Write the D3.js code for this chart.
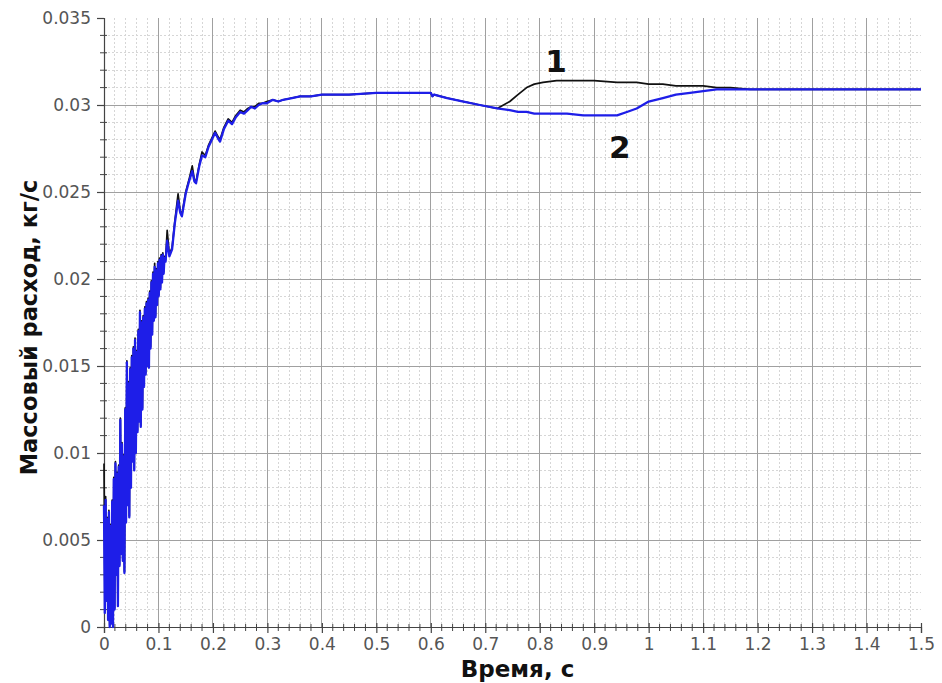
<!DOCTYPE html>
<html>
<head>
<meta charset="utf-8">
<script src="https://cdn.jsdelivr.net/npm/d3@7"></script>
<style>
  html, body { margin: 0; padding: 0; background: #fff; }
  svg { display: block; }
</style>
</head>
<body>
<svg id="chart" width="942" height="683"></svg>
<script>
// Time, s
const time = [
  0.0000,0.0015,0.0030,0.0045,0.0060,0.0075,0.0090,0.0105,0.0120,0.0135,
  0.0150,0.0165,0.0180,0.0195,0.0210,0.0225,0.0240,0.0255,0.0270,0.0285,
  0.0300,0.0315,0.0330,0.0345,0.0360,0.0375,0.0390,0.0405,0.0420,0.0435,
  0.0450,0.0465,0.0480,0.0495,0.0510,0.0525,0.0540,0.0555,0.0570,0.0585,
  0.0600,0.0615,0.0630,0.0645,0.0660,0.0675,0.0690,0.0705,0.0720,0.0735,
  0.0750,0.0765,0.0780,0.0795,0.0810,0.0825,0.0840,0.0855,0.0870,0.0885,
  0.0900,0.0915,0.0930,0.0945,0.0960,0.0975,0.0990,0.1005,0.1020,0.1035,
  0.1050,0.1065,0.1080,0.1095,0.1110,0.113,0.116,0.120,0.125,0.130,
  0.136,0.140,0.143,0.150,0.156,0.162,0.166,0.169,0.175,0.180,
  0.186,0.192,0.198,0.204,0.209,0.213,0.220,0.228,0.235,0.242,
  0.250,0.257,0.264,0.270,0.277,0.284,0.291,0.299,0.310,0.320,
  0.329,0.345,0.360,0.380,0.400,0.420,0.450,0.500,0.550,0.600,
  0.603,0.606,0.630,0.660,0.690,0.722,0.745,0.760,0.776,0.790,
  0.806,0.831,0.850,0.880,0.900,0.942,0.960,0.978,1.000,1.026,
  1.050,1.076,1.100,1.125,1.150,1.186,1.250,1.300,1.400,1.500
];

// Mass flow, kg/s — curve 1 (black)
const flow1 = [
  0.0094,0.0027,0.0075,0.0016,0.0063,0.0005,0.0067,0.0001,0.0059,0.0003,
  0.0073,0.0001,0.0086,0.0011,0.0095,0.0031,0.0089,0.0013,0.0093,0.0036,
  0.0120,0.0043,0.0106,0.0039,0.0099,0.0032,0.0126,0.0061,0.0153,0.0071,
  0.0141,0.0064,0.0149,0.0081,0.0156,0.0096,0.0161,0.0091,0.0166,0.0101,
  0.0159,0.0113,0.0171,0.0119,0.0182,0.0116,0.0176,0.0126,0.0179,0.0139,
  0.0184,0.0146,0.0187,0.0151,0.0189,0.0150,0.0193,0.0161,0.0199,0.0169,
  0.0204,0.0177,0.0209,0.0179,0.0206,0.0186,0.0210,0.0191,0.0212,0.0195,
  0.0214,0.0199,0.0215,0.0204,0.0213,0.0211,0.0228,0.0214,0.0218,0.0233,
  0.0249,0.0239,0.0237,0.0250,0.0257,0.0265,0.0257,0.0256,0.0266,0.0273,
  0.0271,0.0277,0.0281,0.0285,0.0282,0.0280,0.0287,0.0292,0.0290,0.0294,
  0.0297,0.0296,0.0298,0.0299,0.0299,0.0301,0.0301,0.0302,0.0303,0.0302,
  0.0303,0.0304,0.0305,0.0305,0.0306,0.0306,0.0306,0.0307,0.0307,0.0307,
  0.0305,0.0306,0.0304,0.0302,0.0300,0.0298,0.0302,0.0306,0.0310,0.0312,
  0.0313,0.0314,0.0314,0.0314,0.0314,0.0313,0.0313,0.0313,0.0312,0.0312,
  0.0311,0.0311,0.0311,0.0310,0.0310,0.0309,0.0309,0.0309,0.0309,0.0309
];

// Mass flow, kg/s — curve 2 (blue)
const flow2 = [
  0.0070,0.0008,0.0073,0.0015,0.0062,0.0004,0.0066,0.0000,0.0058,0.0002,
  0.0072,0.0000,0.0085,0.0010,0.0094,0.0030,0.0088,0.0012,0.0092,0.0035,
  0.0119,0.0042,0.0105,0.0038,0.0098,0.0031,0.0125,0.0060,0.0152,0.0070,
  0.0140,0.0063,0.0148,0.0080,0.0155,0.0095,0.0160,0.0090,0.0165,0.0100,
  0.0158,0.0112,0.0170,0.0118,0.0181,0.0115,0.0175,0.0125,0.0178,0.0138,
  0.0183,0.0145,0.0186,0.0150,0.0188,0.0149,0.0192,0.0160,0.0198,0.0168,
  0.0203,0.0176,0.0207,0.0178,0.0205,0.0185,0.0209,0.0190,0.0211,0.0194,
  0.0213,0.0198,0.0214,0.0203,0.0212,0.0210,0.0222,0.0213,0.0217,0.0232,
  0.0245,0.0238,0.0236,0.0249,0.0256,0.0262,0.0256,0.0255,0.0265,0.0271,
  0.0270,0.0276,0.0280,0.0284,0.0281,0.0279,0.0286,0.0291,0.0289,0.0293,
  0.0296,0.0295,0.0297,0.0299,0.0298,0.0300,0.0301,0.0301,0.0303,0.0302,
  0.0303,0.0304,0.0305,0.0305,0.0306,0.0306,0.0306,0.0307,0.0307,0.0307,
  0.0305,0.0306,0.0304,0.0302,0.0300,0.0298,0.0297,0.0296,0.0296,0.0295,
  0.0295,0.0295,0.0295,0.0294,0.0294,0.0294,0.0296,0.0298,0.0302,0.0304,
  0.0306,0.0307,0.0308,0.0309,0.0309,0.0309,0.0309,0.0309,0.0309,0.0309
];

const xTicks = [0,0.1,0.2,0.3,0.4,0.5,0.6,0.7,0.8,0.9,1,1.1,1.2,1.3,1.4,1.5];
const xTickLabels = ["0","0.1","0.2","0.3","0.4","0.5","0.6","0.7","0.8","0.9","1","1.1","1.2","1.3","1.4","1.5"];
const yTicks = [0,0.005,0.01,0.015,0.02,0.025,0.03,0.035];
const yTickLabels = ["0","0.005","0.01","0.015","0.02","0.025","0.03","0.035"];

const curveLabels = [
  { text: "1", t: 0.83, v: 0.0319 },
  { text: "2", t: 0.947, v: 0.02695 }
];

const xTitle = "Время, с";
const yTitle = "Массовый расход, кг/с";

// ---- layout ----
const svg = d3.select("#chart");
const plotLeft = 104, plotRight = 921, plotTop = 18, plotBottom = 627;

const x = d3.scaleLinear().domain([0, 1.5]).range([plotLeft, plotRight]);
const y = d3.scaleLinear().domain([0, 0.035]).range([plotBottom, plotTop]);

const xMinor = d3.range(0, 76).map(i => i * 0.02).filter((d, i) => i % 5 !== 0);
const yMinor = d3.range(0, 36).map(i => i * 0.001).filter((d, i) => i % 5 !== 0);

// minor grid
const grid = svg.append("g");
grid.selectAll(".vmin").data(xMinor).join("line")
  .attr("x1", d => x(d)).attr("x2", d => x(d))
  .attr("y1", plotTop).attr("y2", plotBottom)
  .attr("stroke", "#d6d6d6").attr("stroke-width", 1)
  .attr("stroke-dasharray", "2,2").attr("shape-rendering", "crispEdges");
grid.selectAll(".hmin").data(yMinor).join("line")
  .attr("x1", plotLeft).attr("x2", plotRight)
  .attr("y1", d => y(d)).attr("y2", d => y(d))
  .attr("stroke", "#d6d6d6").attr("stroke-width", 1)
  .attr("stroke-dasharray", "2,2").attr("shape-rendering", "crispEdges");

// major grid
grid.selectAll(".vmaj").data(xTicks.filter(d => d > 0 && d < 1.5)).join("line")
  .attr("x1", d => x(d)).attr("x2", d => x(d))
  .attr("y1", plotTop).attr("y2", plotBottom)
  .attr("stroke", "#a0a0a0").attr("stroke-width", 1)
  .attr("shape-rendering", "crispEdges");
grid.selectAll(".hmaj").data(yTicks.filter(d => d > 0 && d < 0.035)).join("line")
  .attr("x1", plotLeft).attr("x2", plotRight)
  .attr("y1", d => y(d)).attr("y2", d => y(d))
  .attr("stroke", "#a0a0a0").attr("stroke-width", 1)
  .attr("shape-rendering", "crispEdges");

// axes
const axisColor = "#444";
const fontFamily = "'DejaVu Sans', sans-serif";

const xAxis = svg.append("g").attr("transform", `translate(0,${plotBottom})`)
  .call(d3.axisBottom(x).tickValues(xTicks)
    .tickFormat((d, i) => xTickLabels[i]).tickSize(6).tickPadding(5));
const yAxis = svg.append("g").attr("transform", `translate(${plotLeft},0)`)
  .call(d3.axisLeft(y).tickValues(yTicks)
    .tickFormat((d, i) => yTickLabels[i]).tickSize(7).tickPadding(6));

[xAxis, yAxis].forEach(a => {
  a.select(".domain").attr("stroke", axisColor).attr("stroke-width", 1.2);
  a.selectAll(".tick line").attr("stroke", axisColor).attr("stroke-width", 1.2);
  a.selectAll(".tick text").attr("fill", "#555")
    .style("font-family", fontFamily).style("font-size", "17px");
});
// major x ticks also reach a little above the axis line
xAxis.selectAll(".tick line").attr("y1", -4);

// minor ticks crossing the axes
svg.append("g").selectAll("line").data(xMinor).join("line")
  .attr("x1", d => x(d)).attr("x2", d => x(d))
  .attr("y1", plotBottom - 3).attr("y2", plotBottom + 4)
  .attr("stroke", axisColor).attr("stroke-width", 1);
svg.append("g").selectAll("line").data(yMinor).join("line")
  .attr("x1", plotLeft - 4).attr("x2", plotLeft + 3)
  .attr("y1", d => y(d)).attr("y2", d => y(d))
  .attr("stroke", axisColor).attr("stroke-width", 1);

// curves
const line = d3.line().x(d => x(d[0])).y(d => y(d[1]));
svg.append("path")
  .datum(time.map((t, i) => [t, flow1[i]]))
  .attr("d", line).attr("fill", "none")
  .attr("stroke", "#111").attr("stroke-width", 1.7)
  .attr("stroke-linejoin", "round");
svg.append("path")
  .datum(time.map((t, i) => [t, flow2[i]]))
  .attr("d", line).attr("fill", "none")
  .attr("stroke", "#1e1ee8").attr("stroke-width", 2.3)
  .attr("stroke-linejoin", "round");

// curve numbers
svg.append("g").selectAll("text").data(curveLabels).join("text")
  .attr("x", d => x(d.t)).attr("y", d => y(d.v))
  .attr("text-anchor", "middle")
  .style("font-family", fontFamily).style("font-weight", "bold")
  .style("font-size", "31px").attr("fill", "#111")
  .text(d => d.text);

// axis titles
svg.append("text")
  .attr("x", (plotLeft + plotRight) / 2 + 5).attr("y", 677)
  .attr("text-anchor", "middle")
  .style("font-family", fontFamily).style("font-weight", "bold")
  .style("font-size", "23px").attr("fill", "#111")
  .text(xTitle);
svg.append("text")
  .attr("transform", `translate(37,${(plotTop + plotBottom) / 2 + 5}) rotate(-90)`)
  .attr("text-anchor", "middle")
  .style("font-family", fontFamily).style("font-weight", "bold")
  .style("font-size", "22.5px").attr("fill", "#111")
  .text(yTitle);
</script>
</body>
</html>
